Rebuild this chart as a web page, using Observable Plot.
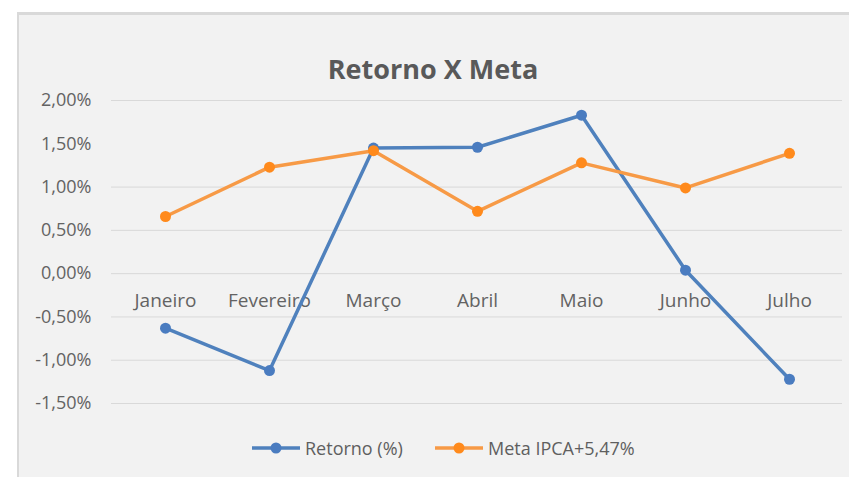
<!DOCTYPE html>
<html>
<head>
<meta charset="utf-8">
<script src="https://cdn.jsdelivr.net/npm/d3@7"></script>
<script src="https://cdn.jsdelivr.net/npm/@observablehq/plot@0.6"></script>
<style>
  html, body { margin: 0; padding: 0; background: #ffffff; }
  #page { position: relative; width: 849px; height: 477px; overflow: hidden; background: #ffffff; font-family: "Open Sans", Lato, sans-serif; }
  #box { position: absolute; left: 17px; top: 12px; width: 832px; height: 465px; background: #f2f2f2; border-top: 3px solid #d9d9d9; border-left: 2px solid #d9d9d9; box-sizing: border-box; }
  #title { position: absolute; left: 0; width: 866px; top: 53px; text-align: center; font-size: 27px; font-weight: bold; color: #595959; line-height: 32px; }
  #chart { position: absolute; left: 0; top: 0; }
  #legend { position: absolute; top: 436px; left: 0; width: 849px; height: 24px; font-size: 18px; color: #5f5f5f; }
  .item { position: absolute; top: 0; display: flex; align-items: center; height: 24px; }
  .item svg { margin-right: 5px; }
</style>
</head>
<body>
<div id="page">
  <div id="box"></div>
  <div id="title">Retorno X Meta</div>
  <div id="chart"></div>
  <div id="legend"></div>
</div>
<script>
const months = ["Janeiro", "Fevereiro", "Março", "Abril", "Maio", "Junho", "Julho"];
const retorno = [-0.63, -1.12, 1.45, 1.46, 1.83, 0.04, -1.22];
const meta = [0.66, 1.23, 1.42, 0.72, 1.28, 0.99, 1.39];
const seriesNames = ["Retorno (%)", "Meta IPCA+5,47%"];
const yTicks = [-1.5, -1, -0.5, 0, 0.5, 1, 1.5, 2];
const gridTicks = [-1.5, -1, -0.5, 0, 0.5, 1, 2];

const blueLine = "#4f81bd", blueDot = "#4a7cc0";
const orangeLine = "#f79a46", orangeDot = "#ff8a1c";

const rows = [];
months.forEach((m, i) => {
  rows.push({month: m, value: retorno[i], series: seriesNames[0]});
  rows.push({month: m, value: meta[i], series: seriesNames[1]});
});
const ret = rows.filter(d => d.series === seriesNames[0]);
const met = rows.filter(d => d.series === seriesNames[1]);

const br = d3.formatLocale({decimal: ",", thousands: ".", grouping: [3], currency: ["R$", ""], minus: "-"});
const fmt = v => br.format(".2f")(v) + "%";

const chart = Plot.plot({
  width: 849,
  height: 477,
  marginLeft: 111,
  marginRight: 7,
  marginTop: 100,
  marginBottom: 74,
  style: {background: "transparent", fontFamily: "'Open Sans', Lato, sans-serif"},
  x: {type: "point", domain: months, padding: 0.5, axis: null},
  y: {domain: [-1.5, 2], axis: null},
  marks: [
    Plot.gridY(gridTicks, {stroke: "#d9d9d9", strokeOpacity: 1, strokeWidth: 1}),
    Plot.axisY(yTicks, {tickSize: 0, tickPadding: 20, tickFormat: fmt, fontSize: 18, fill: "#636363", label: null}),
    Plot.text(months, {x: d => d, y: 0, dy: 27, text: d => d, fontSize: 19, fill: "#636363"}),
    Plot.line(ret, {x: "month", y: "value", stroke: blueLine, strokeWidth: 3.5}),
    Plot.dot(ret, {x: "month", y: "value", fill: blueDot, r: 5.5}),
    Plot.line(met, {x: "month", y: "value", stroke: orangeLine, strokeWidth: 3.5}),
    Plot.dot(met, {x: "month", y: "value", fill: orangeDot, r: 5.5})
  ]
});
document.getElementById("chart").appendChild(chart);

const legend = document.getElementById("legend");
const items = [
  {name: seriesNames[0], line: blueLine, dot: blueDot, left: 252},
  {name: seriesNames[1], line: orangeLine, dot: orangeDot, left: 435}
];
for (const it of items) {
  const div = document.createElement("div");
  div.className = "item";
  div.style.left = it.left + "px";
  div.innerHTML = `<svg width="48" height="12"><line x1="0" y1="6" x2="48" y2="6" stroke="${it.line}" stroke-width="3.5"/><circle cx="24" cy="6" r="5.5" fill="${it.dot}"/></svg><span>${it.name}</span>`;
  legend.appendChild(div);
}
</script>
</body>
</html>
